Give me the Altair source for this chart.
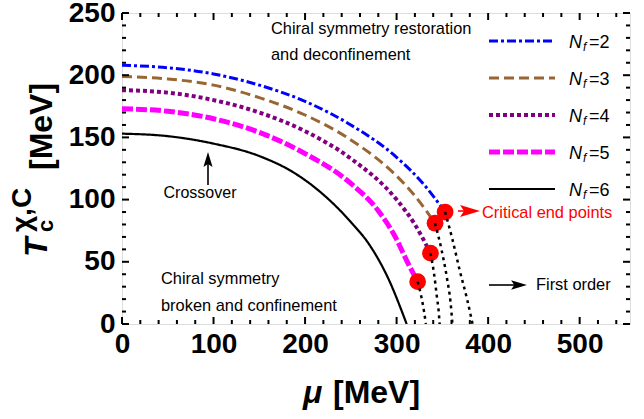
import altair as alt
import pandas as pd

# ---- phase boundaries T_c(mu) for N_f = 2..6 (MeV) ----
mu_nf2 = [0, 50, 100, 150, 200, 250, 300, 330, 353]
T_nf2 = [208, 206, 201, 192, 179, 160, 134, 112, 90]

mu_nf3 = [0, 50, 100, 150, 200, 250, 300, 320, 342]
T_nf3 = [199, 197, 192, 182, 168, 148, 119, 103, 81]

mu_nf4 = [0, 50, 100, 150, 200, 250, 300, 320, 337]
T_nf4 = [188, 186, 180, 170, 155, 133, 100, 80, 57]

mu_nf5 = [0, 50, 100, 150, 200, 250, 280, 300, 311, 323]
T_nf5 = [173, 171, 165, 154, 137, 113, 91, 68, 51, 34]

mu_nf6 = [0, 50, 100, 150, 187, 220, 250, 270, 290, 311]
T_nf6 = [153, 151, 145, 135, 122, 104, 82, 64, 38, 0]

# first-order transition lines below the critical end points
fo_mu_nf2 = [353, 361, 369, 377, 383]
fo_T_nf2 = [90, 68, 43, 20, 0]
fo_mu_nf3 = [342, 349, 355, 359, 361]
fo_T_nf3 = [81, 60, 37, 17, 0]
fo_mu_nf4 = [337, 341, 344, 346, 347]
fo_T_nf4 = [57, 40, 22, 10, 0]
fo_mu_nf5 = [323, 327, 330, 332]
fo_T_nf5 = [34, 22, 10, 0]

# critical end points
cep_mu = [353, 342, 337, 323]
cep_T = [90, 81, 57, 34]

flavours = ["2", "3", "4", "5", "6"]
x_major = [0, 100, 200, 300, 400, 500]
y_major = [0, 50, 100, 150, 200, 250]

W, H = 508, 311
FONT = "Liberation Sans"

styles = {
    "2": dict(color="#0000ff", dash=[9, 3, 3, 3], width=3),
    "3": dict(color="#996633", dash=[10, 5], width=3),
    "4": dict(color="#800080", dash=[4, 3], width=4),
    "5": dict(color="#ff00ff", dash=[11, 3], width=5),
    "6": dict(color="#000000", dash=[1, 0], width=2.2),
}
curves = {
    "2": (mu_nf2, T_nf2), "3": (mu_nf3, T_nf3), "4": (mu_nf4, T_nf4),
    "5": (mu_nf5, T_nf5), "6": (mu_nf6, T_nf6),
}
first_order = [(fo_mu_nf2, fo_T_nf2), (fo_mu_nf3, fo_T_nf3),
               (fo_mu_nf4, fo_T_nf4), (fo_mu_nf5, fo_T_nf5)]

xscale = alt.Scale(domain=[0, 555], nice=False, zero=False)
yscale = alt.Scale(domain=[0, 250], nice=False, zero=False)
axis_common = dict(ticks=False, domain=False, grid=False, title=None,
                   labelFont=FONT, labelFontSize=28, labelFontWeight="bold",
                   labelColor="black", labelFlush=False, labelOverlap=False)
xaxis = alt.Axis(values=x_major, labelPadding=6, **axis_common)
yaxis = alt.Axis(values=y_major, labelPadding=7, **axis_common)


def X(field="mu"):
    return alt.X(f"{field}:Q", scale=xscale, axis=xaxis)


def Y(field="T"):
    return alt.Y(f"{field}:Q", scale=yscale, axis=yaxis)


layers = []

# phase boundary curves
for nf in flavours:
    mu, T = curves[nf]
    st = styles[nf]
    df = pd.DataFrame({"mu": mu, "T": T})
    layers.append(
        alt.Chart(df).mark_line(color=st["color"], strokeDash=st["dash"],
                                strokeWidth=st["width"], interpolate="monotone",
                                clip=True)
        .encode(x=X(), y=Y(), order="mu:Q")
    )

# critical end points
layers.append(
    alt.Chart(pd.DataFrame({"mu": cep_mu, "T": cep_T}))
    .mark_circle(size=280, color="#ff0000", opacity=1)
    .encode(x=X(), y=Y())
)

# first-order lines
for mu, T in first_order:
    layers.append(
        alt.Chart(pd.DataFrame({"mu": mu, "T": T}))
        .mark_line(color="black", strokeDash=[3, 4], strokeWidth=2.5,
                   interpolate="monotone", clip=True)
        .encode(x=X(), y=Y(), order="mu:Q")
    )

# inward frame ticks on all four sides
x_ticks_major = pd.DataFrame({"v": x_major})
x_ticks_minor = pd.DataFrame({"v": [v for v in range(0, 556, 20) if v % 100]})
y_ticks_major = pd.DataFrame({"v": y_major})
y_ticks_minor = pd.DataFrame({"v": [v for v in range(0, 251, 10) if v % 50]})

for df, L in [(x_ticks_major, 7), (x_ticks_minor, 4)]:
    for y0, y1 in [(H, H - L), (0, L)]:
        layers.append(alt.Chart(df).mark_rule(color="black", strokeWidth=2)
                      .encode(x=X("v"), y=alt.value(y0), y2=alt.value(y1)))
for df, L in [(y_ticks_major, 7), (y_ticks_minor, 4)]:
    for x0, x1 in [(0, L), (W, W - L)]:
        layers.append(alt.Chart(df).mark_rule(color="black", strokeWidth=2)
                      .encode(y=Y("v"), x=alt.value(x0), x2=alt.value(x1)))

one = pd.DataFrame({"k": [0]})


def text(s, x, y, size=16, color="black", weight="normal", style="normal",
         align="left", baseline="alphabetic", angle=0):
    return alt.Chart(one).mark_text(
        text=s, font=FONT, fontSize=size, color=color, fontWeight=weight,
        fontStyle=style, align=align, baseline=baseline, angle=angle
    ).encode(x=alt.value(x), y=alt.value(y))


def seg(x0, y0, x1, y1, color="black", width=1.5, dash=None):
    kw = dict(color=color, strokeWidth=width)
    if dash:
        kw["strokeDash"] = dash
    return alt.Chart(one).mark_rule(**kw).encode(
        x=alt.value(x0), y=alt.value(y0), x2=alt.value(x1), y2=alt.value(y1))


def head(x, y, path, size, color="black"):
    return alt.Chart(one).mark_point(
        shape=path, size=size, filled=True, color=color, opacity=1, strokeWidth=0
    ).encode(x=alt.value(x), y=alt.value(y))


ARROW_R = "M1,0 L-1,-0.6 L-0.6,0 L-1,0.6 Z"
ARROW_U = "M0,-1 L-0.6,1 L0,0.6 L0.6,1 Z"

# legend
for i, nf in enumerate(flavours):
    st = styles[nf]
    ly = 28 + 37 * i
    layers.append(seg(367, ly, 433, ly, color=st["color"], width=st["width"],
                      dash=st["dash"]))
    layers.append(text("N", 447, ly + 7, size=18, style="italic"))
    layers.append(text("f", 461, ly + 10, size=12, style="italic"))
    layers.append(text("=" + nf, 467, ly + 7, size=18))

# annotations
layers += [
    text("Chiral symmetry restoration", 149, 21, size=16.4),
    text("and deconfinement", 149, 47, size=16.4),
    text("Crossover", 78, 185, align="center", size=16),
    seg(86, 172, 86, 148, width=1.6),
    head(86, 146.5, ARROW_U, 230),
    text("Chiral symmetry", 39, 271, size=16.4),
    text("broken and confinement", 39, 298, size=16.4),
    seg(336, 198, 346, 198, color="#ff0000", width=1.6),
    head(348, 198, ARROW_R, 400, color="#ff0000"),
    text("Critical end points", 360, 205, color="#ff0000", size=16.4),
    seg(367, 272, 398, 272, width=1.6),
    head(397, 272, ARROW_R, 250),
    text("First order", 414, 277, size=16.4),
]

# axis titles
layers += [
    text("\u03bc", 181, 390, size=32, weight="bold", style="italic"),
    text("[MeV]", 211, 390, size=32, weight="bold"),
    text("T", -75, 244, size=32, weight="bold", style="italic", angle=270),
    text("c", -69, 219, size=22, weight="bold", angle=270),
    text("\u03c7,C", -91, 219, size=28, weight="bold", angle=270),
    text("[MeV]", -70, 157, size=32, weight="bold", angle=270),
]

chart = alt.layer(*layers).properties(
    width=W, height=H,
    autosize=alt.AutoSizeParams(type="none"),
    padding={"left": 122, "top": 13, "right": 14, "bottom": 95},
).configure_view(stroke="black", strokeWidth=2.5).configure(background="white")

chart.save("out.html", embed_options={"renderer": "svg", "actions": False})
